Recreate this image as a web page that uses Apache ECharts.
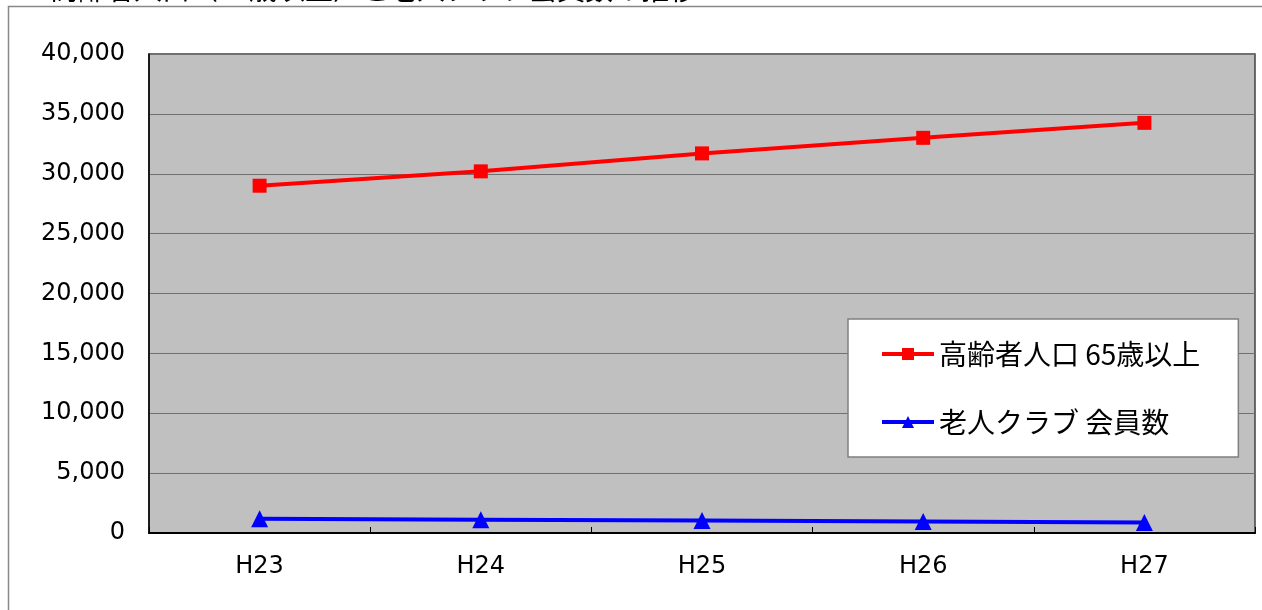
<!DOCTYPE html>
<html>
<head>
<meta charset="utf-8">
<script src="https://cdn.jsdelivr.net/npm/echarts@6/dist/echarts.min.js"></script>
<style>
html, body { margin: 0; padding: 0; background: #fff; }
#chart { width: 1262px; height: 610px; }
</style>
</head>
<body>
<div id="chart"></div>
<script>
var years = ['H23', 'H24', 'H25', 'H26', 'H27'];
var elderly = [29000, 30200, 31700, 33000, 34250];
var clubMembers = [1180, 1110, 1040, 960, 870];
var seriesNames = ['高齢者人口 65歳以上', '老人クラブ 会員数'];
var titleText = '高齢者人口（65歳以上）と老人クラブ会員数の推移';

var font = '"Noto Sans CJK JP", "Noto Sans", sans-serif';
var numFont = '"DejaVu Sans", sans-serif';
var chart = echarts.init(document.getElementById('chart'));

var option = {
  backgroundColor: '#fff',
  animation: false,
  graphic: [
    {
      type: 'rect',
      shape: { x: 8.5, y: 6.5, width: 1400, height: 800 },
      style: { fill: 'none', stroke: '#888', lineWidth: 1.5 },
      z: -1
    },
    {
      type: 'text',
      left: 50,
      top: -25,
      style: { text: titleText, font: '28px ' + font, fill: '#000' }
    }
  ],
  grid: {
    left: 149,
    right: 7,
    top: 54,
    bottom: 77,
    show: true,
    backgroundColor: '#c0c0c0',
    borderColor: '#404040',
    borderWidth: 1.5
  },
  legend: {
    orient: 'vertical',
    left: 848,
    top: 319,
    padding: [21, 38, 21, 32],
    backgroundColor: '#fff',
    borderColor: '#808080',
    borderWidth: 1.5,
    itemWidth: 52,
    itemHeight: 15,
    itemGap: 40,
    lineStyle: { width: 4 },
    textStyle: { fontSize: 28, color: '#000', fontFamily: font },
    data: seriesNames
  },
  xAxis: {
    type: 'category',
    boundaryGap: true,
    data: years,
    axisLine: { lineStyle: { color: '#000', width: 2 } },
    axisTick: { show: true, inside: true, length: 6, lineStyle: { color: '#000' } },
    axisLabel: { color: '#000', fontSize: 24, fontFamily: numFont, margin: 22 }
  },
  yAxis: {
    type: 'value',
    min: 0,
    max: 40000,
    interval: 5000,
    axisLine: { show: true, lineStyle: { color: '#000', width: 1.5 } },
    axisTick: { show: false },
    splitLine: { lineStyle: { color: '#707070', width: 1.2 } },
    axisLabel: {
      color: '#000',
      fontSize: 24,
      fontFamily: numFont,
      margin: 24,
      formatter: function (v) { return v.toLocaleString('en-US'); }
    }
  },
  series: [
    {
      name: seriesNames[0],
      type: 'line',
      data: elderly,
      symbol: 'rect',
      symbolSize: 14,
      color: '#ff0000',
      lineStyle: { color: '#ff0000', width: 4 },
      itemStyle: { color: '#ff0000' }
    },
    {
      name: seriesNames[1],
      type: 'line',
      data: clubMembers,
      symbol: 'triangle',
      symbolSize: 17,
      color: '#0000ff',
      lineStyle: { color: '#0000ff', width: 4 },
      itemStyle: { color: '#0000ff' }
    }
  ]
};

chart.setOption(option);
</script>
</body>
</html>
